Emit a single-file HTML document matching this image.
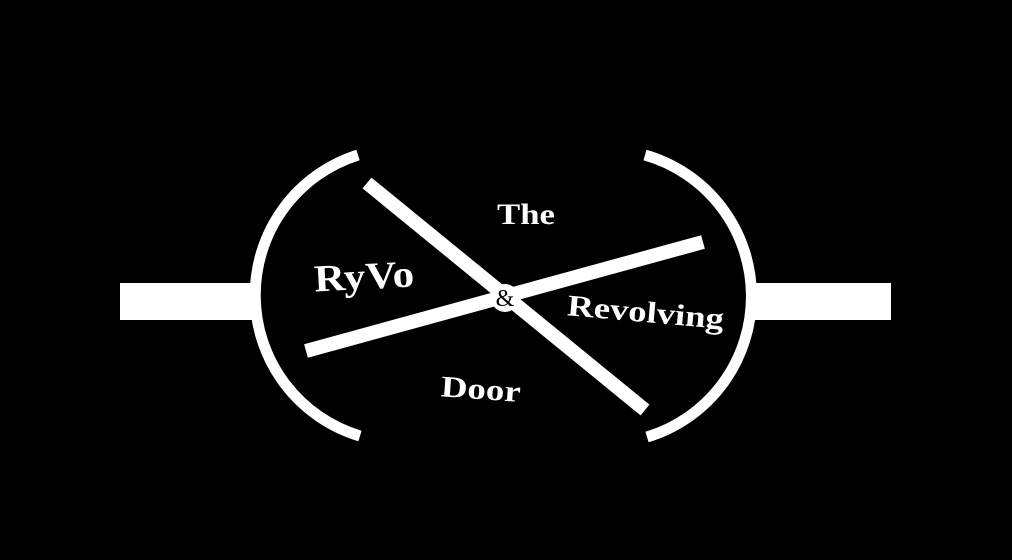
<!DOCTYPE html>
<html><head><meta charset="utf-8"><style>
html,body{margin:0;padding:0;background:#000;}
svg{display:block}
text{font-family:"Liberation Serif",serif;font-weight:bold;fill:#fff}
</style></head><body>
<svg width="1012" height="560" viewBox="0 0 1012 560" xmlns="http://www.w3.org/2000/svg">
<rect width="1012" height="560" fill="#000"/>
<rect x="120" y="283" width="138" height="37" fill="#fff"/>
<rect x="754" y="283" width="137" height="37" fill="#fff"/>
<path d="M358,155 A147,147 0 0 0 360,436" fill="none" stroke="#fff" stroke-width="11"/>
<path d="M645,155 A147,147 0 0 1 647,437" fill="none" stroke="#fff" stroke-width="11"/>
<line x1="367" y1="183" x2="645" y2="410" stroke="#fff" stroke-width="14"/>
<line x1="306" y1="351" x2="703" y2="242" stroke="#fff" stroke-width="14"/>
<circle cx="505" cy="298" r="14" fill="#fff"/>
<text x="505" y="306" font-size="24" text-anchor="middle" style="fill:#000;font-weight:normal">&amp;</text>
<text x="497" y="224" font-size="30" textLength="58" lengthAdjust="spacingAndGlyphs">The</text>
<text x="314" y="289" font-size="38" textLength="100" lengthAdjust="spacingAndGlyphs" transform="rotate(-3 363 275)">RyVo</text>
<text x="567" y="322" font-size="30" textLength="157" lengthAdjust="spacingAndGlyphs" transform="rotate(5 645 315)">Revolving</text>
<text x="441" y="399" font-size="30" textLength="80" lengthAdjust="spacingAndGlyphs" transform="rotate(4 480 388)">Door</text>
</svg>
</body></html>
